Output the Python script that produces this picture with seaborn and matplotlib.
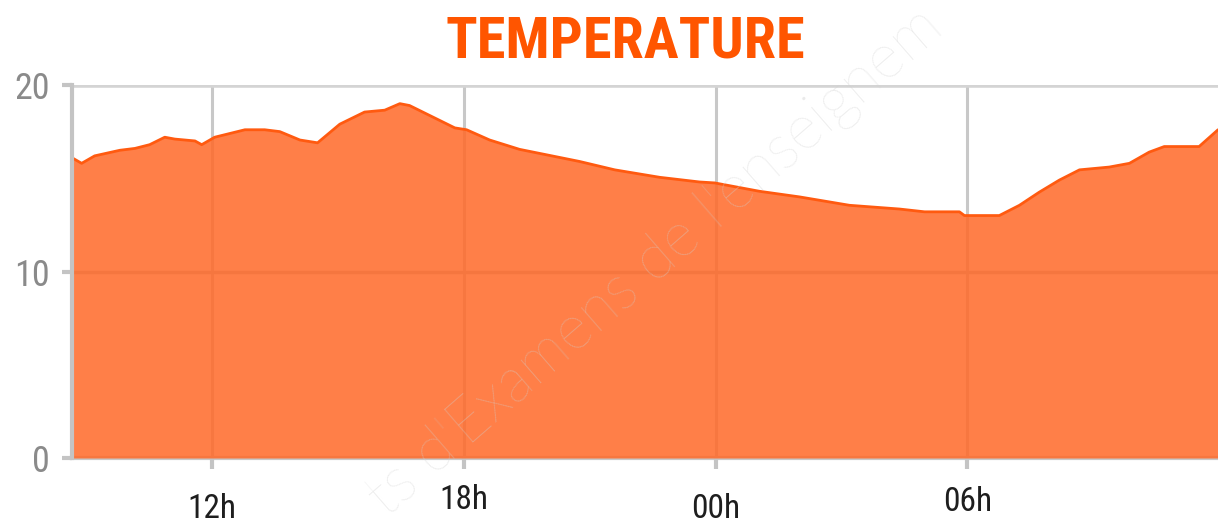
import matplotlib
matplotlib.use("Agg")
import matplotlib.pyplot as plt
import seaborn as sns
import pandas as pd
import logging

logging.getLogger("matplotlib.font_manager").setLevel(logging.ERROR)

# hours since midnight of the first day (24 = 00h next day)
hours = [8.67, 8.90, 9.21, 9.81, 10.17, 10.52, 10.88, 11.12, 11.60, 11.76,
         12.07, 12.43, 12.79, 13.26, 13.62, 14.10, 14.52, 15.05, 15.64, 16.12,
         16.48, 16.71, 17.79, 18.07, 18.62, 19.33, 20.76, 21.60, 22.67, 23.62,
         23.98, 25.05, 26.00, 27.19, 28.38, 28.98, 29.81, 29.93, 30.76, 31.24,
         31.71, 32.19, 32.67, 33.38, 33.86, 34.33, 34.69, 35.52, 35.97]
temps = [16.1, 15.8, 16.2, 16.5, 16.6, 16.8, 17.2, 17.1, 17.0, 16.8,
         17.2, 17.4, 17.6, 17.6, 17.5, 17.05, 16.9, 17.9, 18.55, 18.65,
         19.0, 18.9, 17.7, 17.6, 17.05, 16.55, 15.9, 15.45, 15.05, 14.8,
         14.75, 14.3, 14.0, 13.55, 13.35, 13.2, 13.2, 13.0, 13.0, 13.55,
         14.25, 14.9, 15.45, 15.6, 15.8, 16.4, 16.7, 16.7, 17.6]
tick_hours = [12, 18, 24, 30]
tick_labels = ["12h", "18h", "00h", "06h"]
y_ticks = [0, 10, 20]
title_text = "TEMPERATURE"
watermark = "ts d'Examens de l'enseignem"

narrow = ["Roboto Condensed", "Liberation Sans Narrow", "Roboto"]

df = pd.DataFrame({"hour": hours, "temp": temps})

sns.set_style("white")
fig = plt.figure(figsize=(12.18, 5.26), dpi=100)
ax = fig.add_axes([72 / 1218, 1 - 458 / 526, 1 - 72 / 1218, (458 - 85) / 526])

# grid behind the (slightly transparent) area
for h in tick_hours:
    ax.axvline(h, color="#c8c8c8", lw=2.2, zorder=0)
ax.axhline(10, color="#c0c0c0", lw=2.5, zorder=0)
ax.axhline(20, color="#d4d4d4", lw=4, zorder=0)

ax.fill_between(df["hour"], df["temp"], 0, color="#FF6A2A", alpha=0.86,
                lw=0, zorder=1)
sns.lineplot(data=df, x="hour", y="temp", ax=ax, color="#FF5A10", lw=2.0,
             zorder=2)

ax.set_xlim(8.67, 35.97)
ax.set_ylim(0, 20)
ax.set_xlabel("")
ax.set_ylabel("")

for s in ["top", "right"]:
    ax.spines[s].set_visible(False)
ax.spines["left"].set_color("#c4c4c4")
ax.spines["left"].set_linewidth(3)
ax.spines["bottom"].set_color("#c8c8c8")
ax.spines["bottom"].set_linewidth(3)
ax.spines["bottom"].set_zorder(0.5)

ax.set_yticks(y_ticks)
ax.set_yticklabels([str(v) for v in y_ticks], fontsize=26, color="#8a8a8a",
                   family=narrow)
ax.tick_params(axis="y", direction="out", length=7, width=3, color="#c4c4c4",
               pad=9, left=True)
ax.set_xticks(tick_hours)
ax.set_xticklabels(tick_labels, fontsize=24, color="#1e1e1e", family=narrow)
ax.tick_params(axis="x", direction="out", length=8, width=3, color="#c4c4c4",
               bottom=True)
pads = [17, 11, 17, 12]
for t, p in zip(ax.xaxis.get_major_ticks(), pads):
    t.set_pad(p)

fig.text(625 / 1218, 1 - 57 / 526, title_text, ha="center", va="baseline",
         fontsize=42, fontweight="bold", color="#FF5500", family=narrow)

fig.text(655 / 1218, 1 - 262 / 526, watermark, ha="center", va="center",
         rotation=41, fontsize=44, color="#d0d0d0", alpha=0.45,
         family="Lato", fontweight="light", zorder=5)

fig.savefig("out.png", dpi=100)
